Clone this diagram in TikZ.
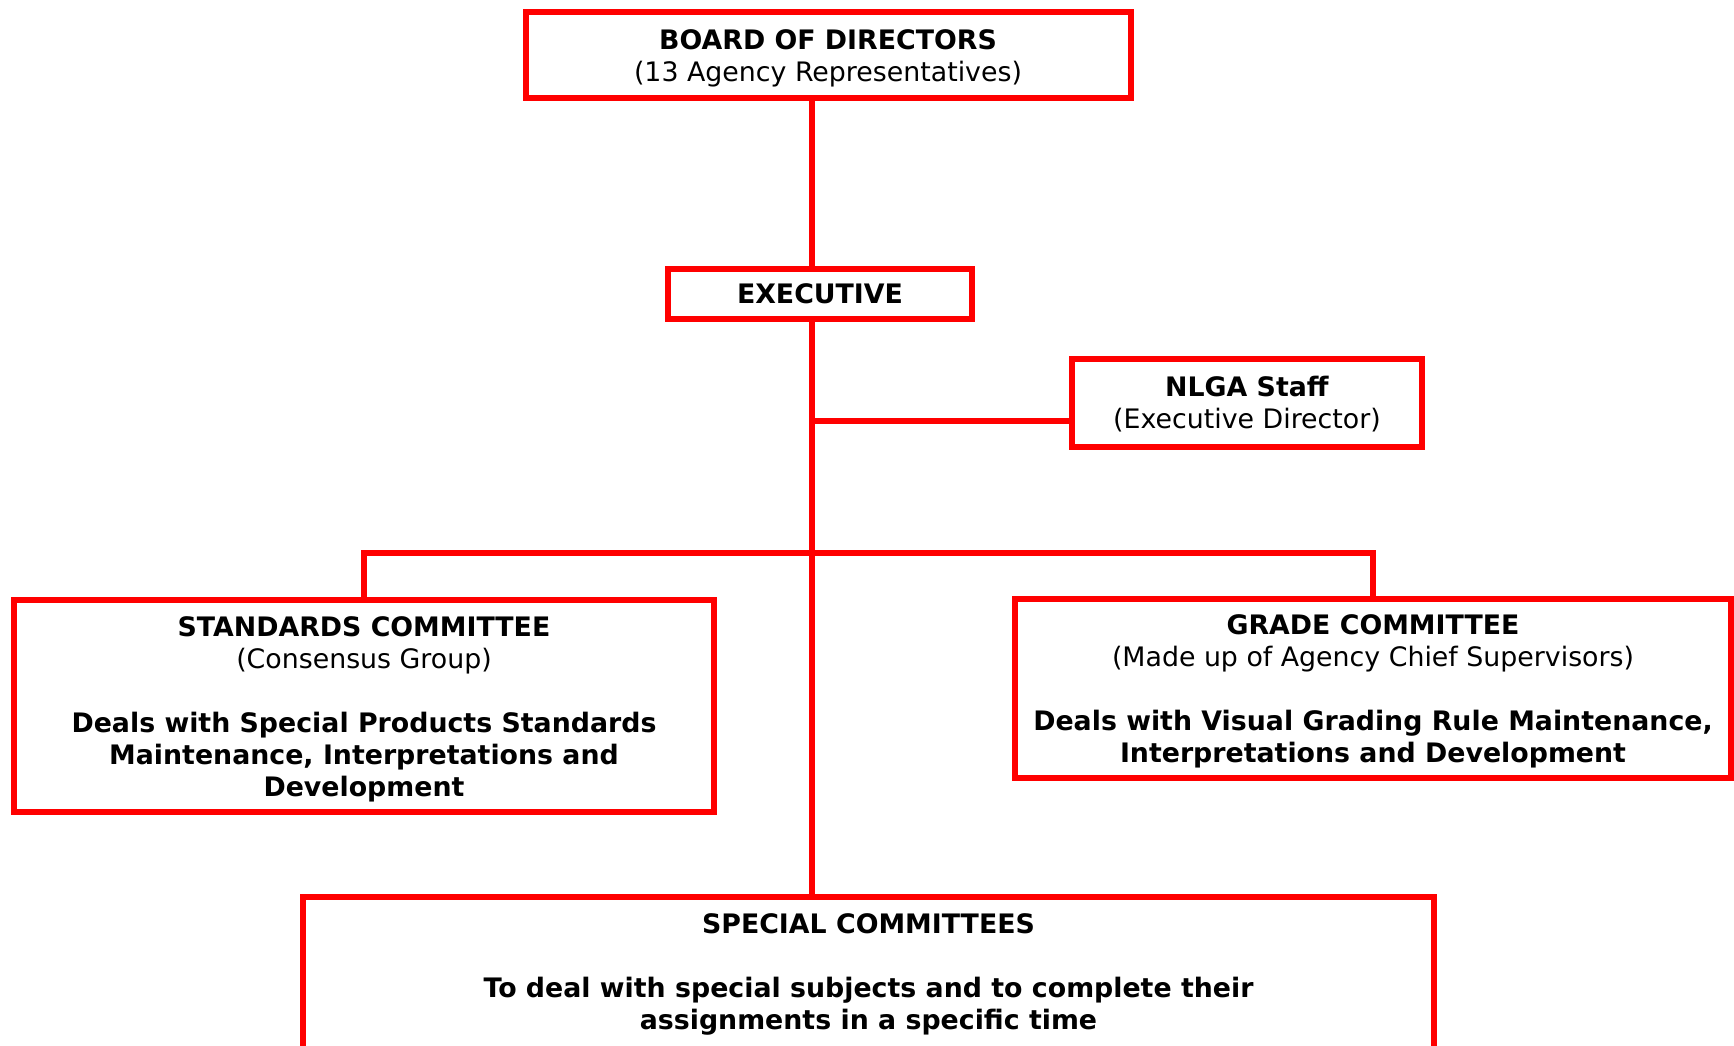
\documentclass[tikz,border=0pt]{standalone}
\usepackage{fontspec}
\setmainfont{DejaVu Sans}
\definecolor{orgred}{RGB}{255,0,0}
\newcommand\linestrut{\rule[-3pt]{0pt}{16pt}}
\begin{document}
\begin{tikzpicture}[x=.5pt,y=-.5pt,font=\fontsize{13.4}{16}\selectfont,
  box/.style={draw=orgred,line width=3pt,align=center,inner sep=0pt},
  link/.style={draw=orgred,line width=3pt}]
\useasboundingbox (0,0) rectangle (1734,1045);
\clip (0,0) rectangle (1734,1045);
\node[box,minimum width=302.5pt,minimum height=43pt] (board) at (828,55) {\linestrut\textbf{BOARD OF DIRECTORS}\\(13 Agency Representatives)\linestrut};
\node[box,minimum width=152pt,minimum height=25pt] (exec) at (820,294) {\textbf{EXECUTIVE}};
\node[box,minimum width=175pt,minimum height=44pt] (staff) at (1247,402.5) {\linestrut\textbf{NLGA Staff}\\(Executive Director)\linestrut};
\node[box,minimum width=350pt,minimum height=106pt] (std) at (364,706) {\linestrut\textbf{STANDARDS COMMITTEE}\\(Consensus Group)\\[16pt]\textbf{Deals with Special Products Standards}\\\textbf{Maintenance, Interpretations and}\\\textbf{Development}\linestrut};
\node[box,minimum width=358pt,minimum height=89.5pt] (grade) at (1373,688) {\linestrut\textbf{GRADE COMMITTEE}\\(Made up of Agency Chief Supervisors)\\[16pt]\textbf{Deals with Visual Grading Rule Maintenance,}\\\textbf{Interpretations and Development}\linestrut};
\node[box,minimum width=565.5pt,minimum height=80pt] (special) at (868.5,977) {\linestrut\textbf{SPECIAL COMMITTEES}\\[16pt]\textbf{To deal with special subjects and to complete their}\\\textbf{assignments in a specific time}\rule[-8.5pt]{0pt}{8.5pt}};
% spine and branches
\coordinate (hub) at (812,553);
\coordinate (staffjoin) at (812,420.5);
\draw[link] (board.south -| hub) -- (exec.north -| hub);
\draw[link] (exec.south -| hub) -- (special.north -| hub);
\draw[link] (staffjoin) -- (staffjoin -| staff.west);
\draw[link] (std.north) |- (hub) -| (grade.north);
\end{tikzpicture}
\end{document}
